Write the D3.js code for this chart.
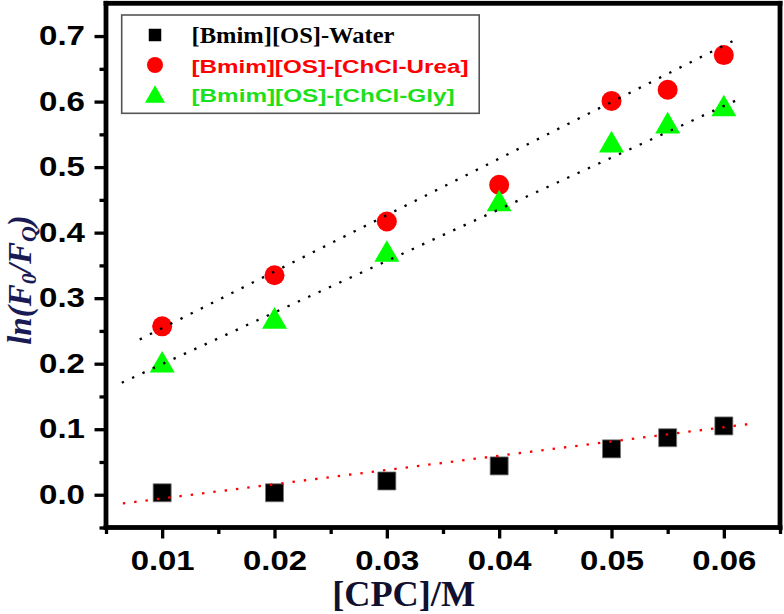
<!DOCTYPE html>
<html><head><meta charset="utf-8">
<script src="https://cdn.jsdelivr.net/npm/d3@7"></script>
<style>body{margin:0;background:#fff}svg{display:block}</style>
</head><body><svg id="c" width="784" height="614"></svg>
<script>
// ---- data ----
const concentrations = [0.01, 0.02, 0.03, 0.04, 0.05, 0.055, 0.06];
const waterValues = [0.003, 0.003, 0.021, 0.044, 0.070, 0.087, 0.105];
const ureaValues  = [0.257, 0.335, 0.417, 0.473, 0.601, 0.618, 0.671];
const glyValues   = [0.203, 0.270, 0.372, 0.449, 0.539, 0.568, 0.594];
const seriesNames = ["[Bmim][OS]-Water", "[Bmim][OS]-[ChCl-Urea]", "[Bmim][OS]-[ChCl-Gly]"];
// linear fit lines (end points)
const fitWaterX = [0.0065, 0.0621], fitWaterY = [-0.0133, 0.1076];
const fitUreaX  = [0.0080, 0.0611], fitUreaY  = [0.237, 0.695];
const fitGlyX   = [0.0064, 0.0615], fitGlyY   = [0.171, 0.605];
const xTickValues = [0.01, 0.02, 0.03, 0.04, 0.05, 0.06];
const xMinorValues = [0.005, 0.015, 0.025, 0.035, 0.045, 0.055, 0.065];
const yTickValues = [0.0, 0.1, 0.2, 0.3, 0.4, 0.5, 0.6, 0.7];
const yMinorValues = [-0.05, 0.05, 0.15, 0.25, 0.35, 0.45, 0.55, 0.65];
const xTitle = "[CPC]/M";

// ---- layout ----
const svg = d3.select("#c");
const L = 106, R = 780, T = 3.3, B = 527.5;
const x = d3.scaleLinear().domain([0.005, 0.065]).range([L, R]);
const y = d3.scaleLinear().domain([-0.05, 0.75]).range([B, T]);

// markers
const squareSym = {draw(ctx, size){const s=Math.sqrt(size)/2;ctx.moveTo(-s,-s);ctx.lineTo(s,-s);ctx.lineTo(s,s);ctx.lineTo(-s,s);ctx.closePath();}};
const triSym = {draw(ctx, size){const w=Math.sqrt(size*4/Math.sqrt(3));const h=w*Math.sqrt(3)/2;ctx.moveTo(0,-h/2);ctx.lineTo(w/2,h/2);ctx.lineTo(-w/2,h/2);ctx.closePath();}};
const circSym = d3.symbolCircle;

const series = [
  {name: seriesNames[0], vals: waterValues, sym: squareSym, size: 18*18, fill: "#000", stroke: "#777", fx: fitWaterX, fy: fitWaterY, lc: "#ff0000",
   tc: "#000", font: "'Liberation Serif','Times New Roman',serif", fs: 23, tl: 203, lsize: 12.5*12.5},
  {name: seriesNames[1], vals: ureaValues, sym: circSym, size: Math.PI*10*10, fill: "#ff0000", stroke: "none", fx: fitUreaX, fy: fitUreaY, lc: "#000",
   tc: "#ff0000", font: "'Liberation Sans',Arial,sans-serif", fs: 18, tl: 277, lsize: Math.PI*8*8},
  {name: seriesNames[2], vals: glyValues, sym: triSym, size: 25*25*Math.sqrt(3)/4, fill: "#00ff00", stroke: "none", fx: fitGlyX, fy: fitGlyY, lc: "#000",
   tc: "#1be01b", font: "'Liberation Sans',Arial,sans-serif", fs: 18, tl: 263, lsize: 20*20*Math.sqrt(3)/4}
];

// points
series.forEach(s => {
  svg.append("g").selectAll("path").data(concentrations.map((c,i)=>[c, s.vals[i]])).join("path")
    .attr("d", d3.symbol(s.sym, s.size))
    .attr("transform", d => `translate(${x(d[0])},${y(d[1])})`)
    .attr("fill", s.fill).attr("stroke", s.stroke).attr("stroke-width", 0.8);
});
// fit lines on top
const line = d3.line().x(d=>x(d[0])).y(d=>y(d[1]));
series.forEach(s => {
  svg.append("path").datum(s.fx.map((v,i)=>[v, s.fy[i]]))
    .attr("d", line).attr("fill","none").attr("stroke", s.lc)
    .attr("stroke-width", 2.3).attr("stroke-dasharray", "2.4 9");
});

// axes
const tickFont = "'Liberation Sans',Arial,sans-serif";
const gx = svg.append("g").attr("transform", `translate(0,${B})`)
  .call(d3.axisBottom(x).tickValues(xTickValues).tickSize(11).tickSizeOuter(0).tickPadding(12).tickFormat(d3.format(".2f")));
const gxm = svg.append("g").attr("transform", `translate(0,${B})`)
  .call(d3.axisBottom(x).tickValues(xMinorValues).tickSize(6.5).tickSizeOuter(0).tickFormat(""));
const gy = svg.append("g").attr("transform", `translate(${L},0)`)
  .call(d3.axisLeft(y).tickValues(yTickValues).tickSize(11.5).tickSizeOuter(0).tickPadding(9.5).tickFormat(d3.format(".1f")));
const gym = svg.append("g").attr("transform", `translate(${L},0)`)
  .call(d3.axisLeft(y).tickValues(yMinorValues).tickSize(6.5).tickSizeOuter(0).tickFormat(""));
[gx, gxm, gy, gym].forEach(g => {
  g.select(".domain").remove();
  g.selectAll(".tick line").attr("stroke", "#000").attr("stroke-width", 3.3);
});
gx.selectAll(".tick text").attr("font-family", tickFont).attr("font-weight", "bold").attr("font-size", 27)
  .attr("fill", "#000").attr("textLength", 64).attr("lengthAdjust", "spacingAndGlyphs");
gy.selectAll(".tick text").attr("font-family", tickFont).attr("font-weight", "bold").attr("font-size", 27)
  .attr("fill", "#000").attr("textLength", 46).attr("lengthAdjust", "spacingAndGlyphs");

// frame drawn as filled bars along the plot edges
const fw = 4.8;
const frame = svg.append("g").attr("fill", "#000");
frame.append("rect").attr("x", L - fw/2).attr("y", T - fw/2).attr("width", R - L + fw).attr("height", fw);
frame.append("rect").attr("x", L - fw/2).attr("y", B - fw/2).attr("width", R - L + fw).attr("height", fw);
frame.append("rect").attr("x", L - fw/2).attr("y", T - fw/2).attr("width", fw).attr("height", B - T + fw);
frame.append("rect").attr("x", R - fw/2).attr("y", T - fw/2).attr("width", fw).attr("height", B - T + fw);

// legend
const lg = svg.append("g");
lg.append("rect").attr("x", 121.7).attr("y", 15).attr("width", 357.5).attr("height", 98.3)
  .attr("fill", "#fff").attr("stroke", "#555").attr("stroke-width", 1.6);
const rowY = [35, 65, 94];
const rowBase = [42.7, 72.7, 101.7];
series.forEach((s, i) => {
  lg.append("path").attr("d", d3.symbol(s.sym, s.lsize))
    .attr("transform", `translate(155,${rowY[i]})`).attr("fill", s.fill);
  lg.append("text").attr("x", 191.5).attr("y", rowBase[i]).text(s.name)
    .attr("font-family", s.font).attr("font-weight", "bold").attr("font-size", s.fs)
    .attr("fill", s.tc).attr("textLength", s.tl).attr("lengthAdjust", "spacingAndGlyphs");
});

// axis titles
svg.append("text").attr("x", 403.7).attr("y", 606).attr("text-anchor", "middle")
  .attr("font-family", "'Liberation Serif','Times New Roman',serif").attr("font-weight", "bold")
  .attr("font-size", 35).attr("fill", "#101030").attr("textLength", 143).attr("lengthAdjust", "spacingAndGlyphs")
  .text(xTitle);

const yt = svg.append("text").attr("transform", "translate(30.5,280) rotate(-90)").attr("text-anchor", "middle")
  .attr("font-family", "'Liberation Serif','Times New Roman',serif").attr("font-weight", "bold")
  .attr("font-style", "italic").attr("font-size", 33).attr("fill", "#1a1a55");
yt.append("tspan").text("ln(F");
yt.append("tspan").text("0").attr("font-size", 22).attr("dy", 5);
yt.append("tspan").text("/F").attr("dy", -5);
yt.append("tspan").text("Q").attr("font-size", 22).attr("dy", 5);
yt.append("tspan").text(")").attr("dy", -5);
</script></body></html>
